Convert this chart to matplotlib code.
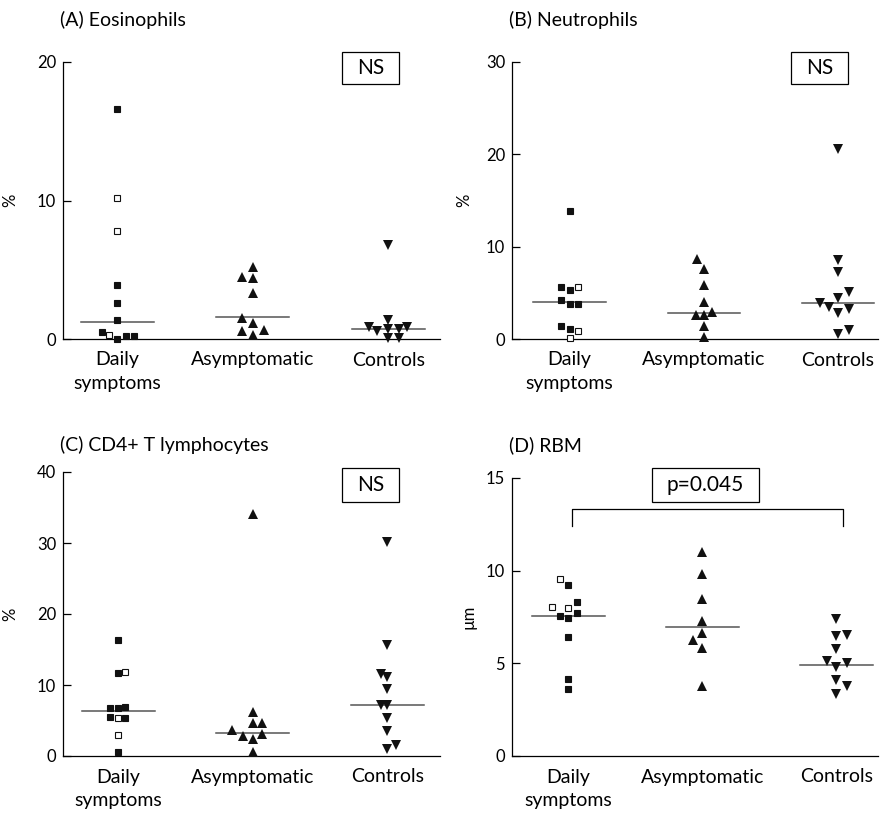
import matplotlib
matplotlib.use("Agg")
import matplotlib.pyplot as plt
from matplotlib.patches import Rectangle

plt.rcParams['font.family'] = ['Lato', 'DejaVu Sans']

## === DATA ===
groups = ["Daily\nsymptoms", "Asymptomatic", "Controls"]

# (A) Eosinophils, %
a_daily = [16.6, 10.2, 7.8, 3.9, 2.6, 1.35, 0.5, 0.3, 0.0, 0.25, 0.25]
a_daily_open = [0, 1, 1, 0, 0, 0, 0, 1, 0, 0, 0]
a_daily_dx = [0, 0, 0, 0, 0, 0, -0.116, -0.064, 0, 0.064, 0.126]
a_asym = [5.2, 4.45, 4.37, 3.3, 1.55, 1.15, 0.6, 0.65, 0.3]
a_asym_dx = [0, -0.083, 0, 0, -0.083, 0, -0.083, 0.081, 0]
a_ctrl = [6.8, 1.35, 0.85, 0.55, 0.75, 0.7, 0.85, 0.1, 0.1]
a_ctrl_dx = [0, 0, -0.142, -0.081, 0, 0.074, 0.140, 0, 0.074]
a_medians = [1.25, 1.6, 0.72]

# (B) Neutrophils, %
b_daily = [13.9, 5.6, 5.35, 5.6, 4.2, 3.75, 3.75, 1.4, 1.1, 0.9, 0.07]
b_daily_open = [0, 0, 0, 1, 0, 0, 0, 0, 0, 1, 1]
b_daily_dx = [0, -0.062, 0, 0.062, -0.062, 0, 0.062, -0.062, 0, 0.062, 0]
b_asym = [8.7, 7.55, 5.85, 4.05, 2.65, 2.65, 2.9, 1.45, 0.25]
b_asym_dx = [-0.05, 0, 0, 0, -0.057, 0, 0.062, 0, 0]
b_ctrl = [20.6, 8.6, 7.3, 5.05, 4.45, 3.85, 3.5, 3.3, 2.85, 0.95, 0.55]
b_ctrl_dx = [0, 0, 0, 0.087, 0, -0.129, -0.067, 0.087, 0, 0.087, 0]
b_medians = [4.05, 2.8, 3.9]

# (C) CD4+ T lymphocytes, %
c_daily = [16.3, 11.7, 11.85, 6.7, 6.7, 6.95, 5.55, 5.4, 5.3, 2.95, 0.6]
c_daily_open = [0, 0, 1, 0, 0, 0, 0, 1, 0, 1, 0]
c_daily_dx = [0, 0, 0.05, -0.062, 0, 0.05, -0.062, 0, 0.05, 0, 0]
c_asym = [34.1, 6.25, 4.7, 4.7, 3.65, 2.85, 2.4, 3.1, 0.6]
c_asym_dx = [0, 0, 0, 0.069, -0.154, -0.074, 0, 0.069, 0]
c_ctrl = [30.1, 15.6, 11.6, 11.1, 9.5, 7.15, 7.15, 5.3, 3.5, 0.95, 1.55]
c_ctrl_dx = [0, 0, -0.05, 0, 0, -0.05, 0, 0, 0, 0, 0.062]
c_medians = [6.4, 3.2, 7.15]

# (D) RBM thickness, um
d_daily = [9.55, 9.25, 8.3, 8.05, 8.0, 7.7, 7.55, 7.45, 6.4, 4.15, 3.6]
d_daily_open = [1, 0, 0, 1, 1, 0, 0, 0, 0, 0, 0]
d_daily_dx = [-0.062, 0, 0.062, -0.124, 0, 0.062, -0.062, 0, 0, 0, 0]
d_asym = [11.0, 9.8, 8.45, 7.3, 6.65, 6.25, 5.85, 3.8]
d_asym_dx = [0, 0, 0, 0, 0, -0.067, 0, 0]
d_ctrl = [7.4, 6.5, 6.55, 5.75, 5.15, 5.0, 4.8, 4.1, 3.8, 3.35]
d_ctrl_dx = [0, 0, 0.08, 0, -0.07, 0.08, 0, 0, 0.08, 0]
d_medians = [7.55, 6.95, 4.9]

## === FIGURE ===
fig = plt.figure(figsize=(8.8, 8.23), dpi=100)
W, H = 880, 823


def px_axes(left, top, right, bottom):
    return fig.add_axes([left / W, 1 - bottom / H, (right - left) / W, (bottom - top) / H])


def panel(ax, daily, daily_open, daily_dx, asym, asym_dx, ctrl, ctrl_dx, medians,
          ylim, yticks, xlim, ylabel, ylabel_x):
    for i, m in enumerate(medians):
        ax.plot([i - 0.27, i + 0.27], [m, m], color='#555555', lw=1.1, zorder=1)
    for y, op, dx in zip(daily, daily_open, daily_dx):
        ax.plot(dx, y, 's', ms=4.9, mfc='white' if op else '#111111',
                mec='#111111', mew=0.8, zorder=3, clip_on=False)
    ax.plot([1 + d for d in asym_dx], asym, '^', ms=7, color='#111111',
            mew=0, zorder=3, clip_on=False)
    ax.plot([2 + d for d in ctrl_dx], ctrl, 'v', ms=7, color='#111111',
            mew=0, zorder=3, clip_on=False)
    ax.set_ylim(*ylim)
    ax.set_xlim(*xlim)
    ax.set_yticks(yticks)
    ax.set_xticks([0, 1, 2])
    ax.set_xticklabels(groups, fontsize=14, linespacing=1.45)
    ax.tick_params(axis='x', length=0, pad=9)
    ax.tick_params(axis='y', direction='in', length=6, width=0.9, labelsize=12, pad=5)
    for s in ['top', 'right']:
        ax.spines[s].set_visible(False)
    for s in ['left', 'bottom']:
        ax.spines[s].set_linewidth(0.9)
    ax.set_ylabel(ylabel, fontsize=12)
    ax.yaxis.set_label_coords(ylabel_x, 0.5)


def label_box(ax, x0, x1, y0, y1, text):
    ax.add_patch(Rectangle((x0, y0), x1 - x0, y1 - y0, transform=ax.transAxes,
                           fill=False, ec='black', lw=0.9, clip_on=False))
    ax.text((x0 + x1) / 2, (y0 + y1) / 2, text, transform=ax.transAxes,
            ha='center', va='center', fontsize=15)


ax_a = px_axes(63, 62, 440, 339)
panel(ax_a, a_daily, a_daily_open, a_daily_dx, a_asym, a_asym_dx, a_ctrl, a_ctrl_dx,
      a_medians, (0, 20), [0, 10, 20], (-0.40, 2.38), '%', -0.119)
label_box(ax_a, 0.740, 0.891, 0.921, 1.036, 'NS')

ax_b = px_axes(512, 62, 878, 339)
panel(ax_b, b_daily, b_daily_open, b_daily_dx, b_asym, b_asym_dx, b_ctrl, b_ctrl_dx,
      b_medians, (0, 30), [0, 10, 20, 30], (-0.43, 2.30), '%', -0.109)
label_box(ax_b, 0.762, 0.918, 0.921, 1.036, 'NS')

ax_c = px_axes(63, 472, 440, 756)
panel(ax_c, c_daily, c_daily_open, c_daily_dx, c_asym, c_asym_dx, c_ctrl, c_ctrl_dx,
      c_medians, (0, 40), [0, 10, 20, 30, 40], (-0.41, 2.39), '%', -0.119)
label_box(ax_c, 0.740, 0.891, 0.894, 1.014, 'NS')

ax_d = px_axes(512, 478, 878, 756)
panel(ax_d, d_daily, d_daily_open, d_daily_dx, d_asym, d_asym_dx, d_ctrl, d_ctrl_dx,
      d_medians, (0, 15), [0, 5, 10, 15], (-0.42, 2.31), 'µm', -0.096)
label_box(ax_d, 0.383, 0.675, 0.914, 1.036, 'p=0.045')
# bracket between daily symptoms and controls
ax_d.plot([0.03, 0.03, 2.05, 2.05], [12.4, 13.33, 13.33, 12.4], color='black', lw=0.9,
          clip_on=False)

## panel titles
titles = ["(A) Eosinophils", "(B) Neutrophils", "(C) CD4+ T lymphocytes", "(D) RBM"]
title_pos = [(60, 20), (509, 20), (60, 445), (509, 445)]
for t, (x, y) in zip(titles, title_pos):
    fig.text(x / W, 1 - y / H, t, ha='left', va='center', fontsize=14)

fig.savefig("out.png", dpi=100)
